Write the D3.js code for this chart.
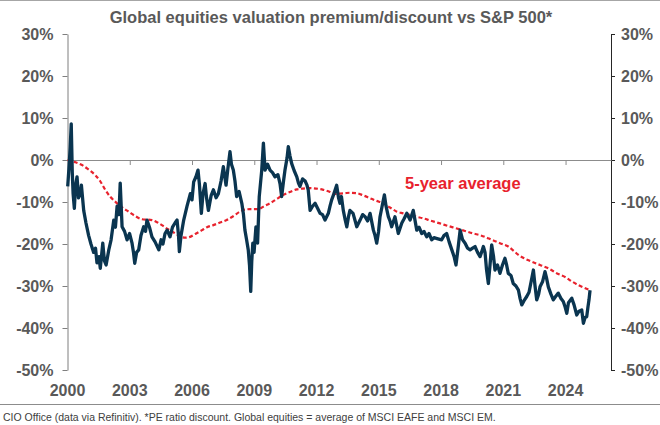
<!DOCTYPE html>
<html>
<head>
<meta charset="utf-8">
<script src="https://cdn.jsdelivr.net/npm/d3@7/dist/d3.min.js"></script>
<style>
  html, body { margin: 0; padding: 0; background: #ffffff; }
  svg { display: block; font-family: "Liberation Sans", Arial, Helvetica, sans-serif; }
</style>
</head>
<body>
<svg id="chart" width="660" height="425"></svg>
<script>
const titleText = "Global equities valuation premium/discount vs S&P 500*";
const footnoteText = "CIO Office (data via Refinitiv). *PE ratio discount. Global equities = average of MSCI EAFE and MSCI EM.";
const averageLabel = "5-year average";

const yTicks = [30, 20, 10, 0, -10, -20, -30, -40, -50];
const yearTicks = [2000, 2003, 2006, 2009, 2012, 2015, 2018, 2021, 2024];

// Global equities premium/discount vs S&P 500 (%), [decimal year, value]
const premiumSeries = [
  [2000.01,-6.3],[2000.07,-2],[2000.13,3],[2000.18,8.6],[2000.23,-3],[2000.27,-8],[2000.33,-11.5],
  [2000.39,-6],[2000.46,-4],[2000.53,-9],[2000.62,-8],[2000.67,-6],[2000.78,-12],[2000.89,-15],
  [2001.02,-18],[2001.13,-20],[2001.26,-22],[2001.35,-21],[2001.42,-24.5],[2001.52,-23],[2001.58,-25.8],
  [2001.70,-19.8],[2001.78,-24],[2001.86,-25],[2001.99,-21.4],[2002.10,-19],[2002.23,-14.3],[2002.31,-16],
  [2002.39,-11],[2002.48,-13],[2002.54,-5.5],[2002.63,-15.9],[2002.75,-17],[2002.87,-19],[2002.99,-17.5],
  [2003.11,-19.8],[2003.18,-22],[2003.24,-24.6],[2003.33,-22],[2003.43,-21.4],[2003.54,-18],[2003.67,-15.9],
  [2003.76,-17],[2003.83,-14.3],[2003.95,-16],[2004.07,-18.3],[2004.22,-19.5],[2004.40,-21.4],[2004.51,-19],
  [2004.60,-20],[2004.70,-17.5],[2004.80,-16.7],[2004.94,-18.3],[2005.06,-16],[2005.18,-15],[2005.28,-14.3],
  [2005.35,-18],[2005.39,-21.8],[2005.47,-18],[2005.60,-14.3],[2005.76,-11],[2005.92,-8],[2006.00,-9.5],
  [2006.08,-5.2],[2006.19,-4],[2006.29,-2.4],[2006.36,-6],[2006.45,-12.7],[2006.53,-8],[2006.63,-5.6],
  [2006.70,-9],[2006.79,-12],[2006.92,-8.5],[2007.03,-7.1],[2007.16,-9],[2007.27,-8],[2007.40,-5],
  [2007.51,-1.6],[2007.64,-6],[2007.73,-2],[2007.83,2],[2007.90,-1],[2007.99,-2.4],[2008.07,-5],
  [2008.15,-8.7],[2008.27,-7.5],[2008.40,-10.3],[2008.48,-13],[2008.55,-16.7],[2008.63,-19],[2008.71,-21.4],
  [2008.77,-25],[2008.83,-31.3],[2008.88,-24],[2008.93,-19.8],[2008.99,-22],[2009.08,-15.9],[2009.16,-19.8],
  [2009.24,-8.7],[2009.36,-2.4],[2009.44,4],[2009.52,-2.4],[2009.64,-1],[2009.76,-2.4],[2009.88,-3],
  [2010.00,-4],[2010.14,-3.5],[2010.24,-5.6],[2010.32,-8.7],[2010.41,-5],[2010.48,-2.4],[2010.58,0.5],
  [2010.64,3.2],[2010.72,1],[2010.80,-0.8],[2010.92,-2.5],[2011.05,-4],[2011.13,-5.5],[2011.20,-6.3],
  [2011.33,-4.5],[2011.45,-5],[2011.54,-6],[2011.60,-7.1],[2011.69,-12],[2011.81,-11],[2011.93,-10.3],
  [2012.05,-11.5],[2012.17,-12.7],[2012.29,-13],[2012.41,-14.3],[2012.57,-12.7],[2012.65,-11],[2012.73,-9.5],
  [2012.84,-8],[2012.97,-6],[2013.06,-9],[2013.13,-10.3],[2013.20,-8.7],[2013.29,-12],[2013.37,-14],
  [2013.46,-15.9],[2013.54,-13.5],[2013.61,-12],[2013.76,-12.7],[2013.94,-15.9],[2014.10,-14.3],[2014.22,-13],
  [2014.34,-13.5],[2014.46,-14.5],[2014.58,-12.7],[2014.74,-16.7],[2014.82,-18],[2014.90,-19.8],[2014.99,-17],
  [2015.06,-13.5],[2015.16,-11],[2015.27,-8.3],[2015.35,-11],[2015.46,-13.5],[2015.54,-14.5],[2015.62,-15.9],
  [2015.78,-13.5],[2015.94,-17.5],[2016.11,-15],[2016.22,-14],[2016.35,-12.7],[2016.51,-14.3],[2016.66,-12],
  [2016.83,-16.7],[2016.94,-16],[2017.07,-17.5],[2017.18,-17],[2017.31,-18.3],[2017.42,-17.5],[2017.55,-19],
  [2017.66,-18.5],[2017.81,-18.7],[2018.03,-19],[2018.14,-18],[2018.27,-17.5],[2018.39,-19.5],[2018.52,-21.4],
  [2018.63,-23],[2018.72,-25],[2018.82,-21],[2018.92,-16.7],[2019.04,-19],[2019.16,-19.8],[2019.28,-21],
  [2019.40,-21.4],[2019.52,-21],[2019.64,-20.6],[2019.76,-22],[2019.88,-23],[2019.95,-22],[2020.04,-20.6],
  [2020.12,-22],[2020.19,-26],[2020.28,-29.4],[2020.36,-25],[2020.44,-20.2],[2020.53,-23],[2020.60,-26.2],
  [2020.72,-25],[2020.84,-27],[2020.96,-25],[2021.08,-23.4],[2021.16,-25],[2021.24,-27],[2021.37,-27.5],
  [2021.48,-29.4],[2021.61,-30],[2021.73,-31],[2021.81,-33],[2021.89,-34.5],[2022.00,-33.5],[2022.13,-32.5],
  [2022.24,-31.5],[2022.34,-29],[2022.45,-26.2],[2022.53,-30],[2022.61,-33.3],[2022.70,-32],[2022.77,-30.2],
  [2022.89,-29],[2023.01,-26.6],[2023.08,-28],[2023.17,-30.2],[2023.30,-32],[2023.41,-33.3],[2023.52,-32.5],
  [2023.65,-31.7],[2023.78,-33],[2023.89,-33.7],[2023.98,-35],[2024.06,-36.5],[2024.14,-34],[2024.30,-32.9],
  [2024.41,-34.5],[2024.54,-36.9],[2024.65,-36],[2024.78,-35.7],[2024.86,-38.9],[2024.94,-37.5],[2025.02,-37.3],
  [2025.08,-35],[2025.13,-33.3],[2025.18,-31]
];

// 5-year average (%), [decimal year, value]
const fiveYearAverage = [
  [2000.0,0],[2000.36,-0.5],[2000.70,-1.2],[2000.99,-2.2],[2001.34,-3.6],[2001.57,-5],[2001.82,-7.1],
  [2002.05,-8.7],[2002.30,-9.9],[2002.63,-11.3],[2002.95,-12.3],[2003.25,-13.3],[2003.59,-14.1],[2004.07,-14.3],
  [2004.31,-14.8],[2004.55,-15.5],[2004.84,-16.5],[2005.20,-17.5],[2005.42,-18.2],[2005.68,-18.5],[2005.90,-18.3],
  [2006.16,-17.6],[2006.48,-16.7],[2006.72,-16],[2007.03,-15.5],[2007.35,-14.9],[2007.67,-14.3],[2007.98,-13.4],
  [2008.31,-12.3],[2008.55,-11.8],[2008.80,-11.7],[2009.04,-11.7],[2009.20,-11.7],[2009.47,-11],[2009.76,-10.3],
  [2010.05,-9.4],[2010.40,-8.3],[2010.72,-7.6],[2011.05,-7],[2011.35,-6.8],[2011.69,-6.7],[2011.98,-6.8],
  [2012.33,-7.1],[2012.65,-7.6],[2012.89,-8.1],[2013.13,-8],[2013.37,-7.9],[2013.61,-7.8],[2013.94,-7.9],
  [2014.24,-8.4],[2014.58,-9.1],[2014.87,-9.7],[2015.22,-10.3],[2015.54,-11.3],[2015.87,-12.3],[2016.17,-12.7],
  [2016.51,-13.1],[2016.80,-13.5],[2017.15,-13.9],[2017.47,-14.4],[2017.95,-15.1],[2018.34,-15.7],[2018.76,-16.3],
  [2019.16,-16.9],[2019.56,-17.5],[2019.88,-17.9],[2020.12,-18.3],[2020.44,-19],[2020.84,-19.8],[2021.24,-20.6],
  [2021.47,-21.5],[2021.73,-22.6],[2022.00,-23.4],[2022.37,-24.2],[2022.77,-25],[2023.17,-25.8],[2023.59,-27],
  [2024.00,-27.9],[2024.27,-28.8],[2024.62,-29.8],[2024.89,-30.4],[2025.18,-31]
];

const svg = d3.select("#chart");
const W = 660, H = 425;
const plot = { left: 67.5, right: 611, top: 34, bottom: 370 };

const x = d3.scaleLinear().domain([2000, 2026.19]).range([plot.left, plot.right]);
const y = d3.scaleLinear().domain([-50, 30]).range([plot.bottom, plot.top]);

const gray = "#595959";

// top border
svg.append("line").attr("x1", 0).attr("x2", W).attr("y1", 0.5).attr("y2", 0.5)
  .attr("stroke", "#a6a6a6").attr("stroke-width", 1);

// title
svg.append("text").attr("x", 331).attr("y", 23).attr("text-anchor", "middle")
  .attr("font-size", 16.5).attr("font-weight", "bold").attr("fill", gray).text(titleText);

// left axis
const leftAxis = svg.append("g").attr("transform", `translate(${plot.left},0)`)
  .call(d3.axisLeft(y).tickValues(yTicks).tickFormat(d => d + "%").tickSize(5).tickSizeOuter(0).tickPadding(9));
leftAxis.select(".domain").attr("stroke", "#7f7f7f");
leftAxis.selectAll(".tick line").attr("stroke", "#7f7f7f");
leftAxis.selectAll("text").attr("font-size", 16).attr("font-weight", "bold").attr("fill", gray)
  .attr("font-family", "Liberation Sans, Arial, sans-serif");

// right axis
const rightAxis = svg.append("g").attr("transform", `translate(${plot.right},0)`)
  .call(d3.axisRight(y).tickValues(yTicks).tickFormat(d => d + "%").tickSize(4).tickSizeOuter(0).tickPadding(6));
rightAxis.select(".domain").attr("stroke", "#262626");
rightAxis.selectAll(".tick line").attr("stroke", "#262626");
rightAxis.selectAll("text").attr("font-size", 16).attr("font-weight", "bold").attr("fill", gray)
  .attr("font-family", "Liberation Sans, Arial, sans-serif");

// zero line with year ticks
const zeroAxis = svg.append("g").attr("transform", `translate(0,${y(0)})`)
  .call(d3.axisBottom(x).tickValues(yearTicks.slice(1)).tickFormat("").tickSize(5).tickSizeOuter(0));
zeroAxis.select(".domain").attr("stroke", "#8c8c8c");
zeroAxis.selectAll(".tick line").attr("stroke", "#8c8c8c");

// year labels at bottom
svg.append("g").selectAll("text").data(yearTicks).join("text")
  .attr("x", d => x(d)).attr("y", 396).attr("text-anchor", "middle")
  .attr("font-size", 16).attr("font-weight", "bold").attr("fill", gray).text(d => d);

// 5-year average (red dashed)
const avgLine = d3.line().x(d => x(d[0])).y(d => y(d[1])).curve(d3.curveMonotoneX);
svg.append("path").datum(fiveYearAverage).attr("d", avgLine)
  .attr("fill", "none").attr("stroke", "#e8222d").attr("stroke-width", 2.2)
  .attr("stroke-dasharray", "4,2.5");

// premium series (dark)
const premLine = d3.line().x(d => x(d[0])).y(d => y(d[1]));
svg.append("path").datum(premiumSeries).attr("d", premLine)
  .attr("fill", "none").attr("stroke", "#0a3550").attr("stroke-width", 3.3)
  .attr("stroke-linejoin", "round");

// label
svg.append("text").attr("x", 405).attr("y", 189)
  .attr("font-size", 16.5).attr("font-weight", "bold").attr("fill", "#e8222d").text(averageLabel);

// footnote rule & text
svg.append("line").attr("x1", 0).attr("x2", W).attr("y1", 404.5).attr("y2", 404.5)
  .attr("stroke", "#8c8c8c").attr("stroke-width", 1);
svg.append("text").attr("x", 3).attr("y", 421)
  .attr("font-size", 10.5).attr("fill", "#404040").text(footnoteText);
</script>
</body>
</html>
